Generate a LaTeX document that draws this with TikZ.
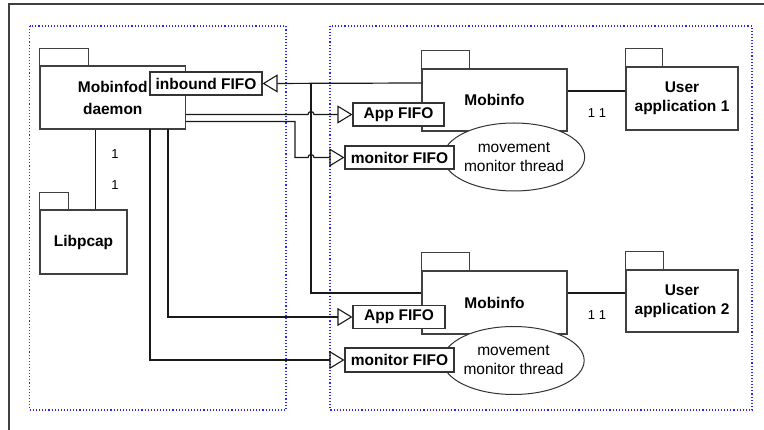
\documentclass[tikz,border=0pt]{standalone}
\usepackage{fontspec}
\setmainfont{Liberation Sans}
\usetikzlibrary{arrows.meta,shapes.geometric}

\newcommand\bigfont{\fontsize{15.5}{19}\selectfont}

\begin{document}
\begin{tikzpicture}[x=1pt, y=-1pt,
    pkg/.style={draw=black!75, line width=1.2pt, fill=white, font=\bigfont\bfseries, align=center, inner sep=0pt},
    pkgtab/.style={draw=black!75, line width=1.2pt, fill=white},
    fifo/.style={draw=black!80, line width=1.1pt, fill=white, font=\bigfont\bfseries, inner sep=0pt, minimum height=23pt},
    thread/.style={ellipse, draw=black!80, line width=1pt, fill=white, font=\bigfont, align=center, inner sep=0pt,
        minimum width=135pt, minimum height=68pt},
    link/.style={draw=black!90, line width=1.2pt},
    gen/.style={link, -{Triangle[open, length=15pt, width=18pt, line width=1.1pt]}},
    bound/.style={draw=blue!85, dotted, line width=1.1pt},
    mult/.style={font=\fontsize{13}{13}\selectfont, inner sep=0pt}
    ]

    \path [use as bounding box] (0,0) rectangle (764,430);

    % outer frame, cut by the page
    \draw [black!75, line width=1.6pt] (9,430) -- (9,4) -- (764,4);

    % the two groups
    \draw [bound] (29.5,26) rectangle (286,410);
    \draw [bound] (330,26) rectangle (752,410);

    % left group
    \node [pkg, minimum width=145.5pt, minimum height=63pt] (mobinfod) at (112.75,97.5) {Mobinfod\\[3pt]daemon};
    \draw [pkgtab] (mobinfod.north west) rectangle ++(49,-17);
    \node [fifo, minimum width=112pt] (inbound) at (206,83.5) {inbound FIFO};

    \node [pkg, minimum width=87pt, minimum height=64pt] (libpcap) at (83.5,242) {Libpcap};
    \draw [pkgtab] (libpcap.north west) rectangle ++(29,-17);

    % right group, first application
    \node [pkg, minimum width=145pt, minimum height=62pt] (mobinfoA) at (494.5,100) {Mobinfo};
    \draw [pkgtab] (mobinfoA.north west) rectangle ++(48,-18);
    \node [thread] (threadA) at (514,157) {movement\\monitor thread};
    \node [fifo, minimum width=91pt] (appfifoA) at (398.5,114.5) {App FIFO};
    \node [fifo, minimum width=109pt] (monfifoA) at (399.5,157.5) {monitor FIFO};

    \node [pkg, minimum width=112pt, minimum height=63pt] (userA) at (682,98.5) {User\\application 1};
    \draw [pkgtab] (userA.north west) rectangle ++(37,-18);

    % right group, second application
    \node [pkg, minimum width=145pt, minimum height=63pt] (mobinfoB) at (494.5,302.5) {Mobinfo};
    \draw [pkgtab] (mobinfoB.north west) rectangle ++(48,-18);
    \node [thread] (threadB) at (513.5,360.5) {movement\\monitor thread};
    \node [fifo, minimum width=92pt] (appfifoB) at (399,317) {App FIFO};
    \node [fifo, minimum width=109pt, minimum height=24pt] (monfifoB) at (399.5,360) {monitor FIFO};

    \node [pkg, minimum width=112pt, minimum height=62pt] (userB) at (682,301) {User\\application 2};
    \draw [pkgtab] (userB.north west) rectangle ++(38,-18);

    % bends of the connectors
    \coordinate (bus) at (311,83);
    \coordinate (busend) at (311,293);
    \coordinate (monbend) at (295,121.5);
    \coordinate (appdrop) at (168,129);
    \coordinate (mondrop) at (150,129);

    % inbound FIFO is fed by both Mobinfo instances
    \draw [gen] (mobinfoA.west |- bus) -- (inbound.east);
    \draw [link] (bus) -- (busend) -- (mobinfoB.west |- busend);

    % daemon to the FIFOs of the first Mobinfo, jumping over the bus
    \draw [gen] (mobinfod.east |- appfifoA) -- ([xshift=-3pt]bus |- appfifoA)
        arc (180:360:3) -- (appfifoA.west);
    \draw [gen] (mobinfod.east |- monbend) -- (monbend) -- (monbend |- monfifoA)
        -- ([xshift=-3pt]bus |- monfifoA) arc (180:360:3) -- (monfifoA.west);

    % daemon to the FIFOs of the second Mobinfo
    \draw [gen] (appdrop) -- (appdrop |- appfifoB) -- (appfifoB.west);
    \draw [gen] (mondrop) -- (mondrop |- monfifoB) -- (monfifoB.west);

    % associations
    \draw [link] (mobinfod.south -| 95.5,0) -- (libpcap.north -| 95.5,0);
    \node [mult] (mlibA) at (115,154) {1};
    \node [mult] (mlibB) at (115,185) {1};

    \draw [link] (mobinfoA.east |- 0,91) -- (userA.west |- 0,91);
    \node [mult] (muserA) at (597,113) {1\hspace{4pt}1};

    \draw [link] (mobinfoB.east |- busend) -- (userB.west |- busend);
    \node [mult] (muserB) at (597,315) {1\hspace{4pt}1};

\end{tikzpicture}
\end{document}
